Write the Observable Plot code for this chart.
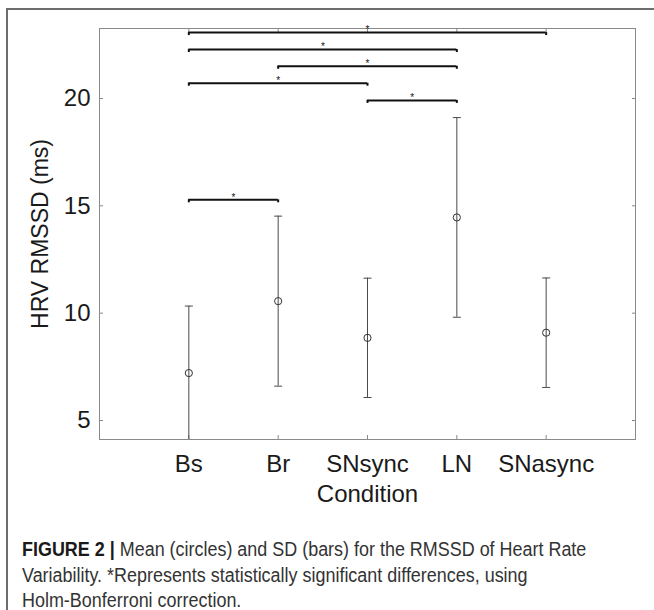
<!DOCTYPE html>
<html>
<head>
<meta charset="utf-8">
<script src="https://cdn.jsdelivr.net/npm/d3@7"></script>
<script src="https://cdn.jsdelivr.net/npm/@observablehq/plot@0.6"></script>
<style>
  html, body { margin: 0; padding: 0; background: #fff; }
  body { width: 654px; height: 610px; position: relative; overflow: hidden; font-family: "Liberation Sans", Arial, sans-serif; }
  #border { position: absolute; left: 6px; top: 8px; width: 700px; height: 700px; border-left: 2px solid #6d6d6d; border-top: 2px solid #6d6d6d; }
  #chart { position: absolute; left: 0; top: 0; }
  #caption { position: absolute; left: 22px; top: 537px; font-size: 19.5px; color: #333; line-height: 25.5px; }
  #caption div { white-space: nowrap; transform-origin: left center; transform: scaleX(0.92); }
  #caption b { color: #1a1a1a; }
</style>
</head>
<body>
<div id="border"></div>
<div id="chart"></div>
<div id="caption">
  <div><b>FIGURE 2 |</b> Mean (circles) and SD (bars) for the RMSSD of Heart Rate</div>
  <div>Variability. *Represents statistically significant differences, using</div>
  <div>Holm-Bonferroni correction.</div>
</div>
<script>
// Data
const categories = ["Bs", "Br", "SNsync", "LN", "SNasync"];
const means = [7.21, 10.56, 8.85, 14.46, 9.09];
const sds = [3.12, 3.96, 2.78, 4.65, 2.55];
const yTicks = [5, 10, 15, 20];
const bracketFrom = ["Bs", "Bs", "Br", "Bs", "SNsync", "Bs"];
const bracketTo = ["SNasync", "LN", "LN", "SNsync", "LN", "Br"];
const bracketLevel = [23.07, 22.28, 21.50, 20.71, 19.91, 15.28];

const pos = c => categories.indexOf(c) + 1;
const rows = categories.map((c, i) => ({x: i + 1, mean: means[i], lo: means[i] - sds[i], hi: means[i] + sds[i]}));
const brackets = bracketFrom.map((f, i) => ({x1: pos(f), x2: pos(bracketTo[i]), y: bracketLevel[i], xm: (pos(f) + pos(bracketTo[i])) / 2}));
const bracketEnds = brackets.flatMap(b => [{x: b.x1, y: b.y}, {x: b.x2, y: b.y}]);
const capSymbol = { draw(ctx) { ctx.moveTo(-4, 0); ctx.lineTo(4, 0); } };
const tickLen = 0.14;

const font = "'Liberation Sans', Arial, sans-serif";
const plot = Plot.plot({
  width: 654,
  height: 520,
  marginLeft: 99,
  marginRight: 19,
  marginTop: 28,
  marginBottom: 81,
  style: { fontFamily: font, background: "transparent", overflow: "visible" },
  x: { type: "linear", domain: [0, 6] },
  y: { domain: [4.115, 23.26] },
  marks: [
    Plot.frame({ stroke: "#8a8a8a", strokeWidth: 1 }),
    // inward ticks
    Plot.axisY(yTicks, { anchor: "left", tickSize: 4, dx: 4, text: null, stroke: "#8a8a8a", label: null }),
    Plot.axisY(yTicks, { anchor: "right", tickSize: 4, dx: -4, text: null, stroke: "#8a8a8a", label: null }),
    Plot.axisY(yTicks, { anchor: "left", tickSize: 0, tickPadding: 9, fontSize: 24, fill: "#1a1a1a", label: null }),
    Plot.axisX([1, 2, 3, 4, 5], { anchor: "bottom", tickSize: 4, dy: -4, text: null, stroke: "#8a8a8a", label: null }),
    Plot.axisX([1, 2, 3, 4, 5], { anchor: "top", tickSize: 4, dy: 4, text: null, stroke: "#8a8a8a", label: null }),
    Plot.axisX([1, 2, 3, 4, 5], { anchor: "bottom", tickSize: 0, tickPadding: 15, fontSize: 24, fill: "#1a1a1a", tickFormat: i => categories[i - 1], label: null }),
    Plot.text(["Condition"], { frameAnchor: "bottom", dy: 55, fontSize: 24, fill: "#1a1a1a", lineAnchor: "middle" }),
    Plot.text(["HRV RMSSD (ms)"], { frameAnchor: "left", dx: -59, rotate: -90, fontSize: 23, fill: "#1a1a1a", textAnchor: "middle", lineAnchor: "middle" }),
    // error bars
    Plot.ruleX(rows, { x: "x", y1: "lo", y2: "hi", stroke: "#4a4a4a", strokeWidth: 1, clip: true }),
    Plot.dot(rows, { x: "x", y: "hi", symbol: capSymbol, stroke: "#4a4a4a", strokeWidth: 1, clip: true }),
    Plot.dot(rows, { x: "x", y: "lo", symbol: capSymbol, stroke: "#4a4a4a", strokeWidth: 1, clip: true }),
    Plot.dot(rows, { x: "x", y: "mean", r: 3.6, stroke: "#333", strokeWidth: 1, fill: "none" }),
    // significance brackets
    Plot.ruleY(brackets, { x1: "x1", x2: "x2", y: "y", stroke: "#111", strokeWidth: 2 }),
    Plot.ruleX(bracketEnds, { x: "x", y1: "y", y2: d => d.y - tickLen, stroke: "#111", strokeWidth: 2 }),
    Plot.text(brackets, { x: "xm", y: "y", text: () => "*", fontSize: 10, fill: "#111", lineAnchor: "middle", dy: -2.5 })
  ]
});
document.getElementById("chart").appendChild(plot);
</script>
</body>
</html>
